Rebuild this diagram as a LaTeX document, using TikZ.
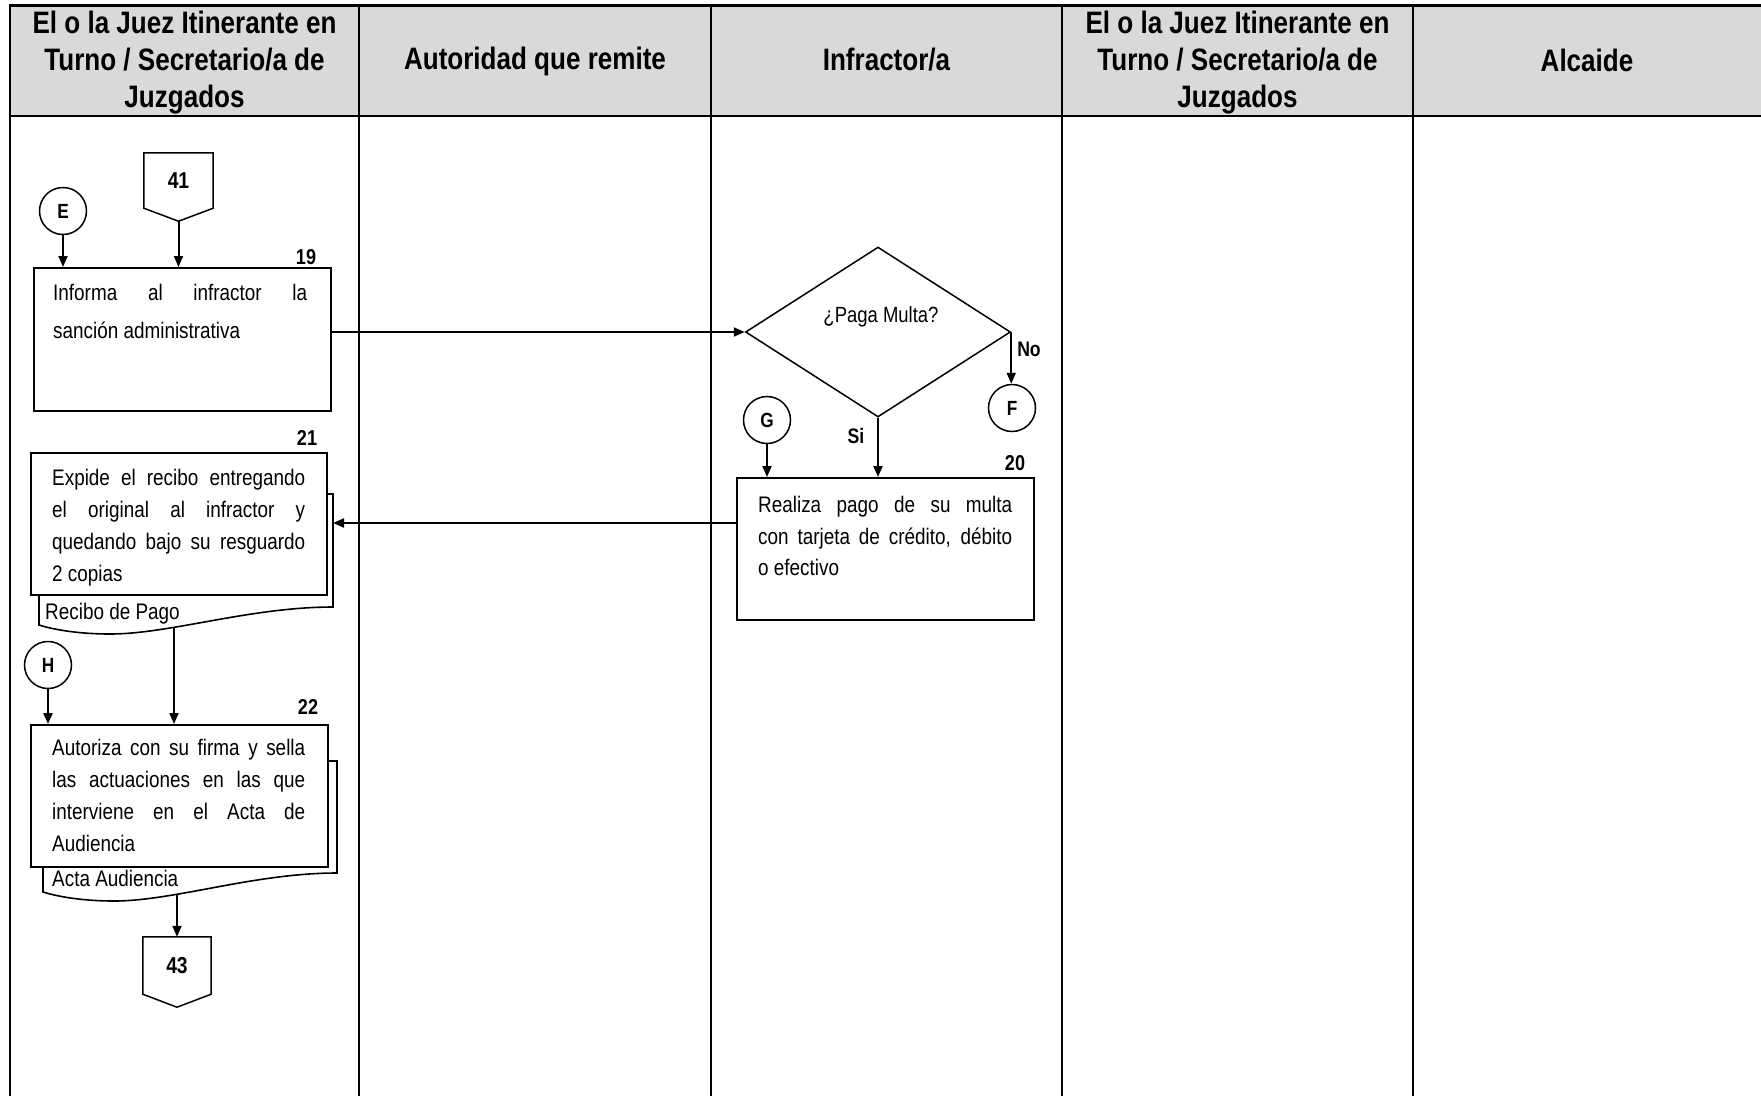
\documentclass[tikz,border=0pt]{standalone}
\usepackage{fontspec}
\setmainfont[FakeStretch=0.84]{Liberation Sans}
\usetikzlibrary{arrows.meta,shapes.geometric,calc}
\definecolor{hdrgray}{RGB}{217,217,217}
\begin{document}
\begin{tikzpicture}[x=1pt,y=-1pt,
  lane/.style={line width=2.2pt},
  hdr/.style={font=\bfseries\fontsize{31}{37}\selectfont, align=center, inner sep=0pt},
  box/.style={draw, line width=1.6pt, fill=white, inner sep=0pt, anchor=north west},
  txt/.style={font=\fontsize{22.5}{32}\selectfont, align=left, inner sep=0pt},
  num/.style={font=\bfseries\fontsize{21.5}{21.5}\selectfont, inner sep=0pt},
  conn/.style={draw, circle, line width=1.5pt, minimum size=47pt, inner sep=0pt, font=\bfseries\fontsize{20.5}{20.5}\selectfont},
  offp/.style={inner sep=0pt, font=\bfseries\fontsize{23}{23}\selectfont},
  arr/.style={line width=2pt, -{Triangle[length=11pt,width=9pt]}},
  docback/.style={draw, line width=1.6pt, fill=white},
]
\useasboundingbox (0,0) rectangle (1761,1096);
% header
\fill[hdrgray] (10,5.5) rectangle (1761,116);
\node[hdr] (h1) at (184.5,63) {El o la Juez Itinerante en\\Turno / Secretario/a de\\Juzgados};
\node[hdr] (h2) at (535,61) {Autoridad que remite};
\node[hdr] (h3) at (886.5,60) {Infractor/a};
\node[hdr] (h4) at (1237.5,63) {El o la Juez Itinerante en\\Turno / Secretario/a de\\Juzgados};
\node[hdr] (h5) at (1587,60) {Alcaide};
\draw[lane] (9,5.5) -- (1761,5.5);
\draw[lane] (10,116) -- (1761,116);
\draw[lane] (10,5.5) -- (10,1096);
\draw[lane] (359,5.5) -- (359,1096);
\draw[lane] (711,5.5) -- (711,1096);
\draw[lane] (1062,5.5) -- (1062,1096);
\draw[lane] (1413,5.5) -- (1413,1096);

% step 19
\node[conn] (E) at (63,211) {E};
\node[offp, minimum width=69pt, minimum height=55pt] (p41) at (178.5,180.5) {41};
\draw[line width=1.5pt] (p41.north west) -- (p41.north east) -- (p41.south east) -- ($(p41.south)+(0,13)$) -- (p41.south west) -- cycle;
\coordinate (p41tip) at ($(p41.south)+(0,13)$);
\node[box, minimum width=297pt, minimum height=143pt] (b19) at (33,267) {};
\node[txt, font=\fontsize{22.5}{38}\selectfont, anchor=north west] (t19) at (53,284) {\makebox[254pt][s]{Informa al infractor la}\\sanción administrativa};
\node[num] (n19) at (306,257) {19};
\draw[arr] (E.south) -- (E.south |- b19.north);
\draw[arr] (p41tip) -- (p41tip |- b19.north);

% decision
\node[draw, diamond, line width=1.5pt, minimum width=265pt, minimum height=170pt, inner sep=0pt] (d) at (878,332) {};
\node[inner sep=0pt, font=\fontsize{22}{22}\selectfont] (dq) at (881,317) {¿Paga Multa?};
\draw[arr] (d.west -| b19.east) -- (d.west);
\node[conn] (F) at (1012,408) {F};
\draw[arr] (d.east) -- (d.east |- F.north);
\node[font=\bfseries\fontsize{21}{21}\selectfont, inner sep=0pt] (no) at (1029,349) {No};
\node[conn] (G) at (767,420) {G};

% step 20
\node[box, minimum width=297pt, minimum height=142pt] (b20) at (736,477) {};
\node[txt, font=\fontsize{22.5}{31.5}\selectfont, anchor=north west] (t20) at (758,496) {\makebox[254pt][s]{Realiza pago de su multa}\\\makebox[254pt][s]{con tarjeta de crédito, débito}\\o efectivo};
\node[num] (n20) at (1015,463) {20};
\draw[arr] (d.south) -- (d.south |- b20.north);
\node[font=\bfseries\fontsize{21}{21}\selectfont, inner sep=0pt] (si) at (856,436) {Si};
\draw[arr] (G.south) -- (G.south |- b20.north);

% step 21
\draw[docback] (39,494) -- (333,494) -- (333,607) .. controls (250,607) and (170,634) .. (110,634) .. controls (80,634) and (55,630) .. (39,625) -- cycle;
\node[box, minimum width=296pt, minimum height=142pt] (b21) at (30,452) {};
\node[txt, anchor=north west] (t21) at (52,469) {\makebox[253pt][s]{Expide el recibo entregando}\\\makebox[253pt][s]{el original al infractor y}\\\makebox[253pt][s]{quedando bajo su resguardo}\\2 copias};
\node[txt, anchor=base west] (r21) at (45,619) {Recibo de Pago};
\node[num] (n21) at (307,438) {21};
\coordinate (in21) at (333,523);
\draw[arr] (in21 -| b20.west) -- (in21);

% step 22
\node[conn] (H) at (48,665) {H};
\draw[docback] (43,761) -- (337,761) -- (337,873) .. controls (254,873) and (174,901) .. (114,901) .. controls (84,901) and (59,897) .. (43,892) -- cycle;
\node[box, minimum width=297pt, minimum height=142pt] (b22) at (30,724) {};
\node[txt, anchor=north west] (t22) at (52,739) {\makebox[253pt][s]{Autoriza con su firma y sella}\\\makebox[253pt][s]{las actuaciones en las que}\\\makebox[253pt][s]{interviene en el Acta de}\\Audiencia};
\node[txt, anchor=base west] (r22) at (52,886) {Acta Audiencia};
\node[num] (n22) at (308,707) {22};
\coordinate (w21) at (174,627);
\draw[arr] (w21) -- (w21 |- b22.north);
\draw[arr] (H.south) -- (H.south |- b22.north);

% off-page 43
\node[offp, minimum width=68pt, minimum height=57pt] (p43) at (177,965.5) {43};
\draw[line width=1.5pt] (p43.north west) -- (p43.north east) -- (p43.south east) -- ($(p43.south)+(0,13)$) -- (p43.south west) -- cycle;
\coordinate (w22) at (177,895);
\draw[arr] (w22) -- (w22 |- p43.north);
\end{tikzpicture}
\end{document}
